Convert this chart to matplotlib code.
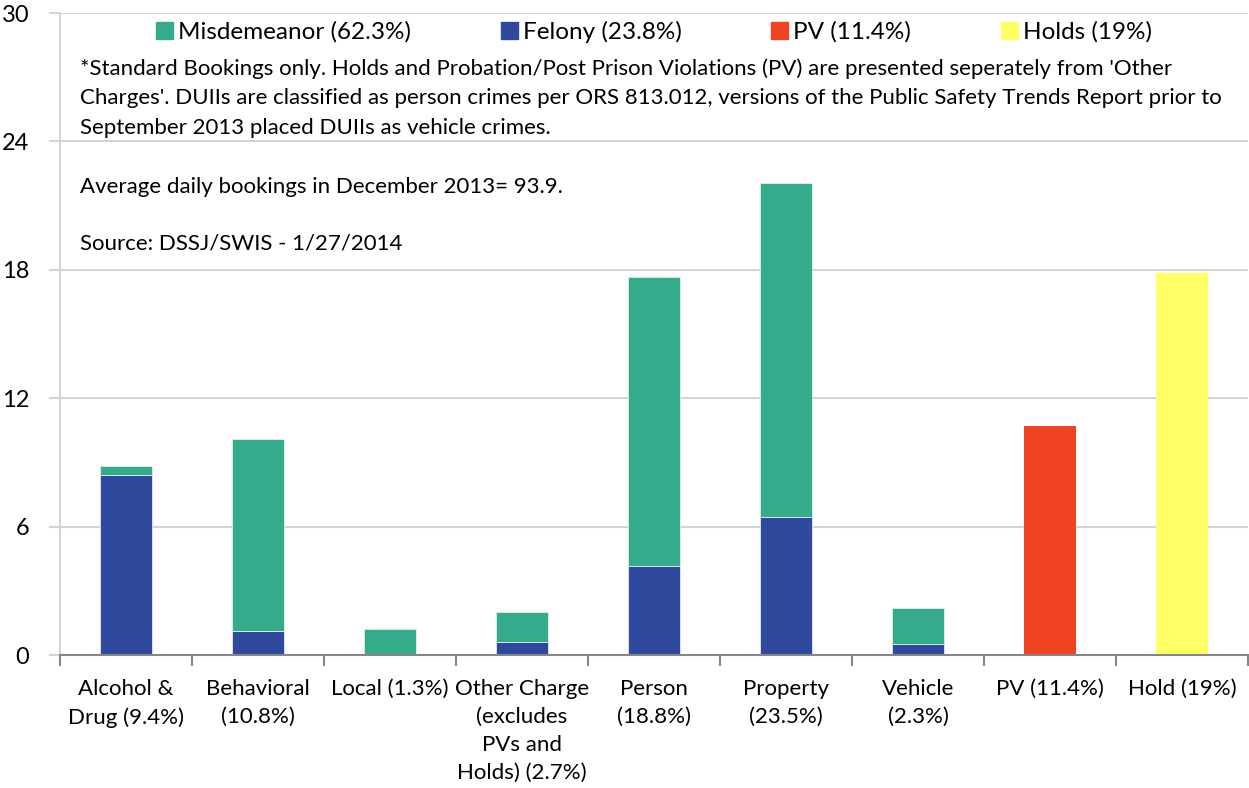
import numpy as np
import matplotlib.pyplot as plt
from matplotlib.patches import Patch

plt.rcParams['font.family'] = ['Lato', 'DejaVu Sans']

categories = ['Alcohol &\nDrug (9.4%)', 'Behavioral\n(10.8%)', 'Local (1.3%)',
              'Other Charge\n(excludes\nPVs and\nHolds) (2.7%)', 'Person\n(18.8%)',
              'Property\n(23.5%)', 'Vehicle\n(2.3%)', 'PV (11.4%)', 'Hold (19%)']
felony = [8.40, 1.14, 0.0, 0.62, 4.15, 6.47, 0.50, 0, 0]
misdemeanor = [0.44, 8.97, 1.23, 1.39, 13.51, 15.60, 1.71, 0, 0]
pv = [0, 0, 0, 0, 0, 0, 0, 10.71, 0]
holds = [0, 0, 0, 0, 0, 0, 0, 0, 17.86]
yticks = [0, 6, 12, 18, 24, 30]

c_mis = '#36AB8C'
c_fel = '#2F4A9C'
c_pv = '#F04323'
c_hold = '#FFFF66'

fig = plt.figure(figsize=(12.49, 7.88), dpi=100)
ax = fig.add_axes([60/1249, (788-655)/788, 1188/1249, 642/788])

x = np.arange(len(categories))
w = 0.4
ax.bar(x, felony, w, color=c_fel, edgecolor='#e8e8f0', linewidth=0.6, zorder=3)
ax.bar(x, misdemeanor, w, bottom=felony, color=c_mis, edgecolor='#e0f0ea', linewidth=0.6, zorder=3)
ax.bar(x, pv, w, color=c_pv, linewidth=0, zorder=3)
ax.bar(x, holds, w, color=c_hold, linewidth=0, zorder=3)

ax.set_xlim(-0.5, len(categories) - 0.5)
ax.set_ylim(0, 30)
ax.set_yticks(yticks)
ax.yaxis.grid(True, color='#d4d4d4', linewidth=1.5, zorder=0)
ax.tick_params(axis='y', length=8, color='#d4d4d4', width=1.5, labelsize=17, pad=14)
ax.set_xticks(x)
ax.set_xticklabels(categories, fontsize=16, linespacing=1.5)
ax.set_xticks(np.arange(len(categories) + 1) - 0.5, minor=True)
ax.tick_params(axis='x', which='major', length=0, pad=17)
ax.tick_params(axis='x', which='minor', length=8, color='#868686', width=1.5)
for s in ['top', 'right']:
    ax.spines[s].set_visible(False)
ax.spines['left'].set_color('#d4d4d4')
ax.spines['left'].set_linewidth(1.5)
ax.spines['bottom'].set_color('#868686')
ax.spines['bottom'].set_linewidth(1.5)
ax.spines['bottom'].set_zorder(4)

handles = [Patch(color=c_mis, label='Misdemeanor (62.3%)'),
           Patch(color=c_fel, label='Felony (23.8%)'),
           Patch(color=c_pv, label='PV (11.4%)'),
           Patch(color=c_hold, label='Holds (19%)')]
ax.legend(handles=handles, loc='upper center', bbox_to_anchor=(0.5, 1.022), ncol=4,
          frameon=False, fontsize=17.5, handlelength=0.7, handleheight=0.7,
          handletextpad=0.2, columnspacing=3.7)

note = ("*Standard Bookings only. Holds and Probation/Post Prison Violations (PV) are presented seperately from 'Other\n"
        "Charges'. DUIIs are classified as person crimes per ORS 813.012, versions of the Public Safety Trends Report prior to\n"
        "September 2013 placed DUIIs as vehicle crimes.")
fig.text(80/1249, 1 - 98/788, note, fontsize=16, va='center', ha='left', linespacing=1.58)
fig.text(80/1249, 1 - 187/788, 'Average daily bookings in December 2013= 93.9.', fontsize=16, va='center')
fig.text(80/1249, 1 - 243/788, 'Source: DSSJ/SWIS - 1/27/2014', fontsize=16, va='center')

fig.savefig('out.png', dpi=100)
